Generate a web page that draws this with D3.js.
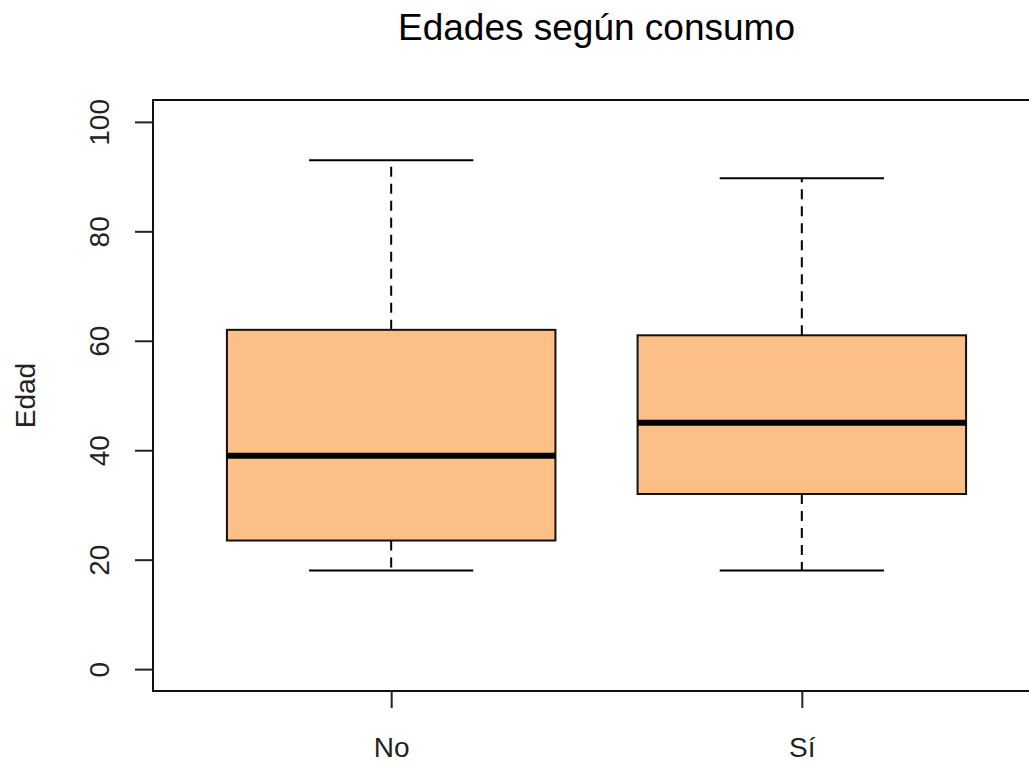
<!DOCTYPE html>
<html><head><meta charset="utf-8">
<script src="https://cdn.jsdelivr.net/npm/d3@7"></script>
<style>body{margin:0;background:#fff;} text{font-family:"Liberation Sans",Arial,sans-serif;}</style>
</head><body>
<svg id="c" width="1029" height="763"></svg>
<script>
const categories = ["No", "Sí"];
const lowerWhisker = [18, 18];
const q1 = [23.5, 32];
const median = [39, 45];
const q3 = [62, 61];
const upperWhisker = [93, 89.7];
const yTicks = [0, 20, 40, 60, 80, 100];
const title = "Edades según consumo";
const yLabel = "Edad";

const svg = d3.select("#c");
const L = 153, R = 1040, T = 100, B = 691;
const x = d3.scaleLinear().domain([0.42, 2.58]).range([L, R]);
const y = d3.scaleLinear().domain([-4, 104]).range([B, T]);
const boxW = 0.4, stapleW = 0.2;
const fill = "#FBBF87";

const data = categories.map((c, i) => ({c, i: i + 1, lo: lowerWhisker[i], q1: q1[i], med: median[i], q3: q3[i], hi: upperWhisker[i]}));

const g = svg.append("g");
data.forEach(d => {
  g.append("line").attr("x1", x(d.i)).attr("x2", x(d.i)).attr("y1", y(d.q3)).attr("y2", y(d.hi))
    .attr("stroke", "#000").attr("stroke-width", 2).attr("stroke-dasharray", "10,7");
  g.append("line").attr("x1", x(d.i)).attr("x2", x(d.i)).attr("y1", y(d.q1)).attr("y2", y(d.lo))
    .attr("stroke", "#000").attr("stroke-width", 2).attr("stroke-dasharray", "10,7");
  [d.hi, d.lo].forEach(v => g.append("line").attr("x1", x(d.i - stapleW)).attr("x2", x(d.i + stapleW))
    .attr("y1", y(v)).attr("y2", y(v)).attr("stroke", "#000").attr("stroke-width", 2));
  g.append("rect").attr("x", x(d.i - boxW)).attr("width", x(d.i + boxW) - x(d.i - boxW))
    .attr("y", y(d.q3)).attr("height", y(d.q1) - y(d.q3))
    .attr("fill", fill).attr("stroke", "#111").attr("stroke-width", 2);
  g.append("line").attr("x1", x(d.i - boxW)).attr("x2", x(d.i + boxW)).attr("y1", y(d.med)).attr("y2", y(d.med))
    .attr("stroke", "#000").attr("stroke-width", 6);
});

svg.append("rect").attr("x", L).attr("y", T).attr("width", R - L).attr("height", B - T)
  .attr("fill", "none").attr("stroke", "#111").attr("stroke-width", 2);

const ya = svg.append("g").attr("transform", `translate(${L},0)`)
  .call(d3.axisLeft(y).tickValues(yTicks).tickSize(18).tickFormat(d3.format("d")));
ya.select(".domain").remove();
ya.selectAll(".tick line").attr("stroke", "#222").attr("stroke-width", 2);
ya.selectAll(".tick text").attr("font-size", 28).attr("fill", "#222")
  .attr("x", 0).attr("y", 0).attr("dy", 0)
  .attr("text-anchor", "middle").attr("transform", "translate(-44,0) rotate(-90)");

const xa = svg.append("g").attr("transform", `translate(0,${B})`)
  .call(d3.axisBottom(x).tickValues([1, 2]).tickSize(17).tickFormat(d => categories[d - 1]));
xa.select(".domain").remove();
xa.selectAll(".tick line").attr("stroke", "#222").attr("stroke-width", 2);
xa.selectAll(".tick text").attr("font-size", 28).attr("fill", "#222").attr("dy", 0).attr("y", 66);

svg.append("text").attr("x", (L + R) / 2).attr("y", 40).attr("text-anchor", "middle")
  .attr("font-size", 37).attr("fill", "#000").text(title);

svg.append("text").attr("transform", `translate(35,${(T + B) / 2}) rotate(-90)`)
  .attr("text-anchor", "middle").attr("font-size", 28).attr("fill", "#222").text(yLabel);
</script>
</body></html>
